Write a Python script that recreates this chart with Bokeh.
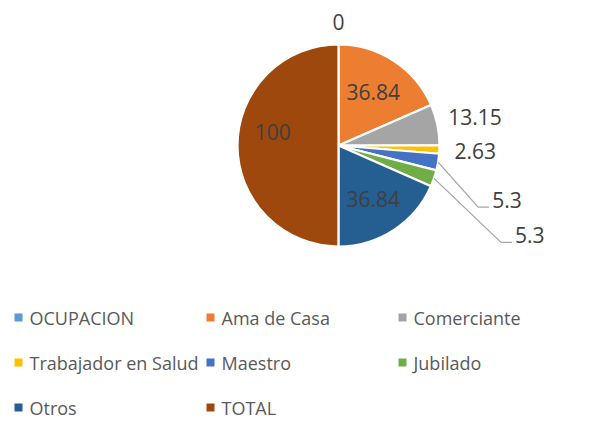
import math
from bokeh.plotting import figure
from bokeh.models import Range1d, ColumnDataSource
from bokeh.embed import file_html
from bokeh.resources import INLINE
from bokeh.core.properties import value

# ---- data ----
categories = ["OCUPACION", "Ama de Casa", "Comerciante", "Trabajador en Salud",
              "Maestro", "Jubilado", "Otros", "TOTAL"]
values = [0, 36.84, 13.15, 2.63, 5.3, 5.3, 36.84, 100]
value_labels = ["0", "36.84", "13.15", "2.63", "5.3", "5.3", "36.84", "100"]
colors = ["#5B9BD5", "#ED7D31", "#A5A5A5", "#FFC000",
          "#4472C4", "#70AD47", "#255E91", "#9E480E"]

# ---- layout (screen pixels of the picture) ----
W, H = 605, 422
OX, OY = 0, 0
CX, CY, R = 338, 145, 101
FONT = "Open Sans"
LABEL_SIZE = 21
LEGEND_SIZE = 18
TEXT_SHIFT = -7.5   # measured rendering offset of the alphabetic baseline

def dx(x):
    return x - OX

def dy(y):
    return (OY + H) - y

p = figure(width=W, height=H, output_backend="svg", toolbar_location=None,
           x_range=Range1d(0, W), y_range=Range1d(0, H), min_border=0)
p.axis.visible = False
p.grid.visible = False
p.outline_line_color = None
p.background_fill_color = "white"
p.border_fill_color = "white"

total = sum(values)
starts, ends, mids = [], [], []
cum = 0.0
for v in values:
    a0 = math.pi / 2 - cum / total * 2 * math.pi
    cum += v
    a1 = math.pi / 2 - cum / total * 2 * math.pi
    starts.append(a0)
    ends.append(a1)
    mids.append((a0 + a1) / 2)

keep = [i for i, v in enumerate(values) if v > 0]
src = ColumnDataSource(dict(
    start=[starts[i] for i in keep],
    end=[ends[i] for i in keep],
    color=[colors[i] for i in keep],
))
p.wedge(x=dx(CX), y=dy(CY), radius=R, start_angle="start", end_angle="end",
        direction="clock", fill_color="color", line_color="white",
        line_width=2.2, source=src)

# ---- data labels ----
# placement per slice: (mode, radius factor, nudge x, nudge y)
placement = [
    ("top", 1.22, 0, 0),
    ("inside", 0.63, 0, 0),
    ("outside", 1.08, 3, -6),
    ("outside", 1.08, 7, 1),
    ("leader", 1.0, 40, 45),
    ("leader", 1.0, 67, 64),
    ("inside", 0.63, 0, 0),
    ("inside", 0.63, -2, -13),
]
half_h = 7.5
tx, ty, talign = [], [], []
lxs, lys = [], []
for i, (mode, f, nx, ny) in enumerate(placement):
    m = mids[i]
    cx = CX + f * R * math.cos(m)
    cy = CY - f * R * math.sin(m)
    if mode in ("top", "inside"):
        tx.append(cx + nx)
        ty.append(cy + ny + half_h)
        talign.append("center")
    elif mode == "outside":
        tx.append(cx + nx)
        ty.append(cy + ny + half_h)
        talign.append("left")
    else:
        ex, ey = cx, cy
        bx, by = ex + nx, ey + ny
        lxs.append([dx(ex), dx(bx), dx(bx + 11)])
        lys.append([dy(ey), dy(by), dy(by)])
        tx.append(bx + 14)
        ty.append(by)
        talign.append("left")

p.multi_line(xs=lxs, ys=lys, line_color="#A6A6A6", line_width=1.3)

lab_src = ColumnDataSource(dict(
    x=[dx(v) for v in tx], y=[dy(v + TEXT_SHIFT) for v in ty],
    text=value_labels, align=talign))
p.text(x="x", y="y", text="text", text_align="align",
       text_baseline="alphabetic", text_font=value(FONT),
       text_font_size=f"{LABEL_SIZE}px", text_color="#404040", source=lab_src)

# ---- legend ----
col_x = [14, 206, 398]
row_base = [325, 370, 415]
sq_x, sq_y, lt_x, lt_y = [], [], [], []
for i, name in enumerate(categories):
    r, c = divmod(i, 3)
    sq_x.append(dx(col_x[c] + 4))
    sq_y.append(dy(row_base[r] - 8))
    lt_x.append(dx(col_x[c] + 15))
    lt_y.append(dy(row_base[r] + TEXT_SHIFT))

p.rect(x=sq_x, y=sq_y, width=8, height=8, fill_color=colors, line_color=None)
p.text(x=lt_x, y=lt_y, text=categories, text_align="left",
       text_baseline="alphabetic", text_font=value(FONT),
       text_font_size=f"{LEGEND_SIZE}px", text_color="#595959")

open("out.html", "w").write(file_html(p, INLINE))
